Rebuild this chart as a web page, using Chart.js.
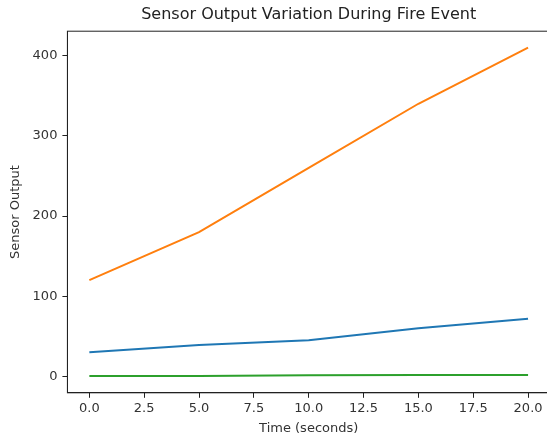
<!DOCTYPE html>
<html>
<head>
<meta charset="utf-8">
<script src="https://cdn.jsdelivr.net/npm/chart.js@4/dist/chart.umd.min.js"></script>
<style>
  html, body { margin: 0; background: #fff; overflow: hidden; }
</style>
</head>
<body>
<canvas id="myChart" width="550" height="437"></canvas>
<script>
const timeSeconds = [0, 5, 10, 15, 20]
const smokeSensor = [30, 39, 45, 60, 72]
const heatSensor = [120, 180, 260, 340, 410]
const gasSensor = [0.3, 0.4, 1.5, 1.6, 1.7]
const xTicks = [0, 2.5, 5, 7.5, 10, 12.5, 15, 17.5, 20]
const yTicks = [0, 100, 200, 300, 400]

const toPoints = (ys) => timeSeconds.map((t, i) => ({ x: t, y: ys[i] }))

Chart.defaults.font.family = 'DejaVu Sans'
Chart.defaults.font.size = 13
Chart.defaults.color = '#333'

// matplotlib style box around the plot
const frame = {
    id: 'frame',
    afterDraw(chart) {
        const { ctx, chartArea: a } = chart
        ctx.save()
        ctx.strokeStyle = '#222'
        ctx.lineWidth = 1
        ctx.strokeRect(a.left, a.top, a.right - a.left, a.bottom - a.top)
        ctx.restore()
    }
}

const axisStyle = {
    grid: { display: true, drawOnChartArea: false, tickLength: 5, tickColor: '#222' },
    border: { display: true, color: '#222' }
}

let sensorChart = new Chart(document.getElementById('myChart').getContext('2d'), {
    type: 'line',
    data: {
        datasets: [
            { label: 'Smoke', data: toPoints(smokeSensor), borderColor: '#1f77b4' },
            { label: 'Heat', data: toPoints(heatSensor), borderColor: '#ff7f0e' },
            { label: 'Gas', data: toPoints(gasSensor), borderColor: '#2ca02c' }
        ]
    },
    options: {
        responsive: false,
        animation: false,
        layout: { padding: { left: 8, right: 0, top: 0, bottom: 0 } },
        elements: {
            line: { borderWidth: 2, tension: 0 },
            point: { radius: 0 }
        },
        plugins: {
            legend: { display: false },
            tooltip: { enabled: false },
            title: {
                display: true,
                fullSize: false,
                text: 'Sensor Output Variation During Fire Event',
                color: '#222',
                font: { size: 16, weight: 'normal' },
                padding: { top: 5, bottom: 7 }
            }
        },
        scales: {
            x: {
                type: 'linear',
                min: -1,
                max: 21,
                afterBuildTicks: (axis) => { axis.ticks = xTicks.map(v => ({ value: v })) },
                ticks: { callback: (v) => v.toFixed(1), maxRotation: 0, padding: 3 },
                title: { display: true, text: 'Time (seconds)', padding: { top: 1, bottom: 1 } },
                ...axisStyle
            },
            y: {
                type: 'linear',
                min: -20.5,
                max: 430.5,
                afterBuildTicks: (axis) => { axis.ticks = yTicks.map(v => ({ value: v })) },
                ticks: { padding: 5 },
                title: { display: true, text: 'Sensor Output', padding: { top: 0, bottom: 4 } },
                ...axisStyle
            }
        }
    },
    plugins: [frame]
})
</script>
</body>
</html>
